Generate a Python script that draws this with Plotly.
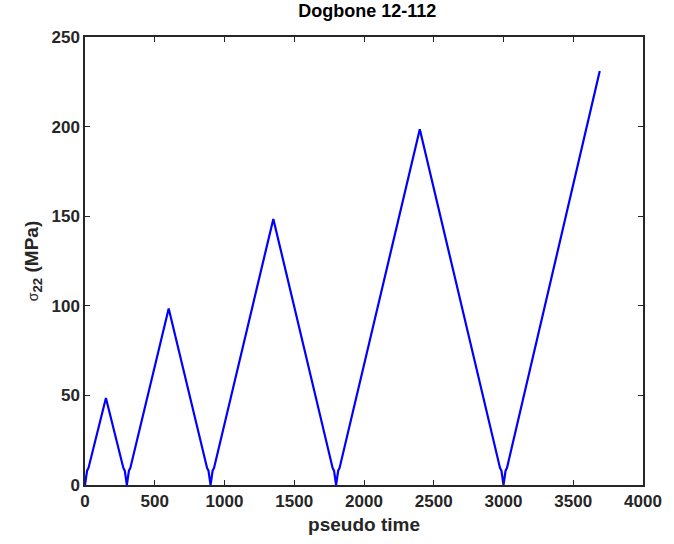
import plotly.graph_objects as go

# Cycle data (pseudo time, sigma_22 MPa)
valley_times = [0, 300, 900, 1800, 3000]
peak_times = [150, 600, 1350, 2400]
peak_values = [48.5, 98.5, 148.5, 198.5]
end_time = 3690
end_value = 231
# small kink near zero at each valley (offset in time, stress)
kink_dt = [15, 25]
kink_s = [8.0, 9.5]

t = []
s = []
for i, (tp, sp) in enumerate(zip(peak_times, peak_values)):
    tv0 = valley_times[i]
    tv1 = valley_times[i + 1]
    if i == 0:
        t.append(tv0); s.append(0)
    t += [tv0 + kink_dt[0], tv0 + kink_dt[1]]
    s += [kink_s[0], kink_s[1]]
    t.append(tp); s.append(sp)
    t += [tv1 - kink_dt[1], tv1 - kink_dt[0], tv1]
    s += [kink_s[1], kink_s[0], 0]
tv = valley_times[-1]
t += [tv + kink_dt[0], tv + kink_dt[1], end_time]
s += [kink_s[0], kink_s[1], end_value]

fig = go.Figure(go.Scatter(x=t, y=s, mode="lines",
                           line=dict(color="#0000FF", width=2.2)))

axis_common = dict(
    showgrid=False, zeroline=False, showline=True, mirror="ticks",
    linecolor="#262626", linewidth=1.5, ticks="inside", ticklen=5,
    tickwidth=1.2, tickcolor="#262626",
    tickfont=dict(size=17, color="#262626", family="Liberation Sans, Arial", weight="bold"),
)

fig.update_layout(
    width=674, height=544,
    margin=dict(l=85, r=22, t=37, b=59),
    paper_bgcolor="white", plot_bgcolor="white",
    showlegend=False,
    font=dict(family="Liberation Sans, Arial", color="#262626", weight="bold"),
    title=dict(text="Dogbone 12-112", x=0.545, xanchor="center", y=0.98, yanchor="middle",
               font=dict(size=18, color="#000000", weight="bold")),
    xaxis=dict(range=[0, 4000], tickvals=[0, 500, 1000, 1500, 2000, 2500, 3000, 3500, 4000],
               title=dict(text="pseudo time", standoff=8,
                          font=dict(size=19, weight="bold", color="#262626")),
               **axis_common),
    yaxis=dict(range=[0, 250], tickvals=[0, 50, 100, 150, 200, 250],
               title=dict(text="<span style='font-weight:normal;font-size:14px'>σ</span><sub>22</sub> (MPa)",
                          standoff=8,
                          font=dict(size=19, weight="bold", color="#262626")),
               **axis_common),
)

fig.write_html("out.html")
